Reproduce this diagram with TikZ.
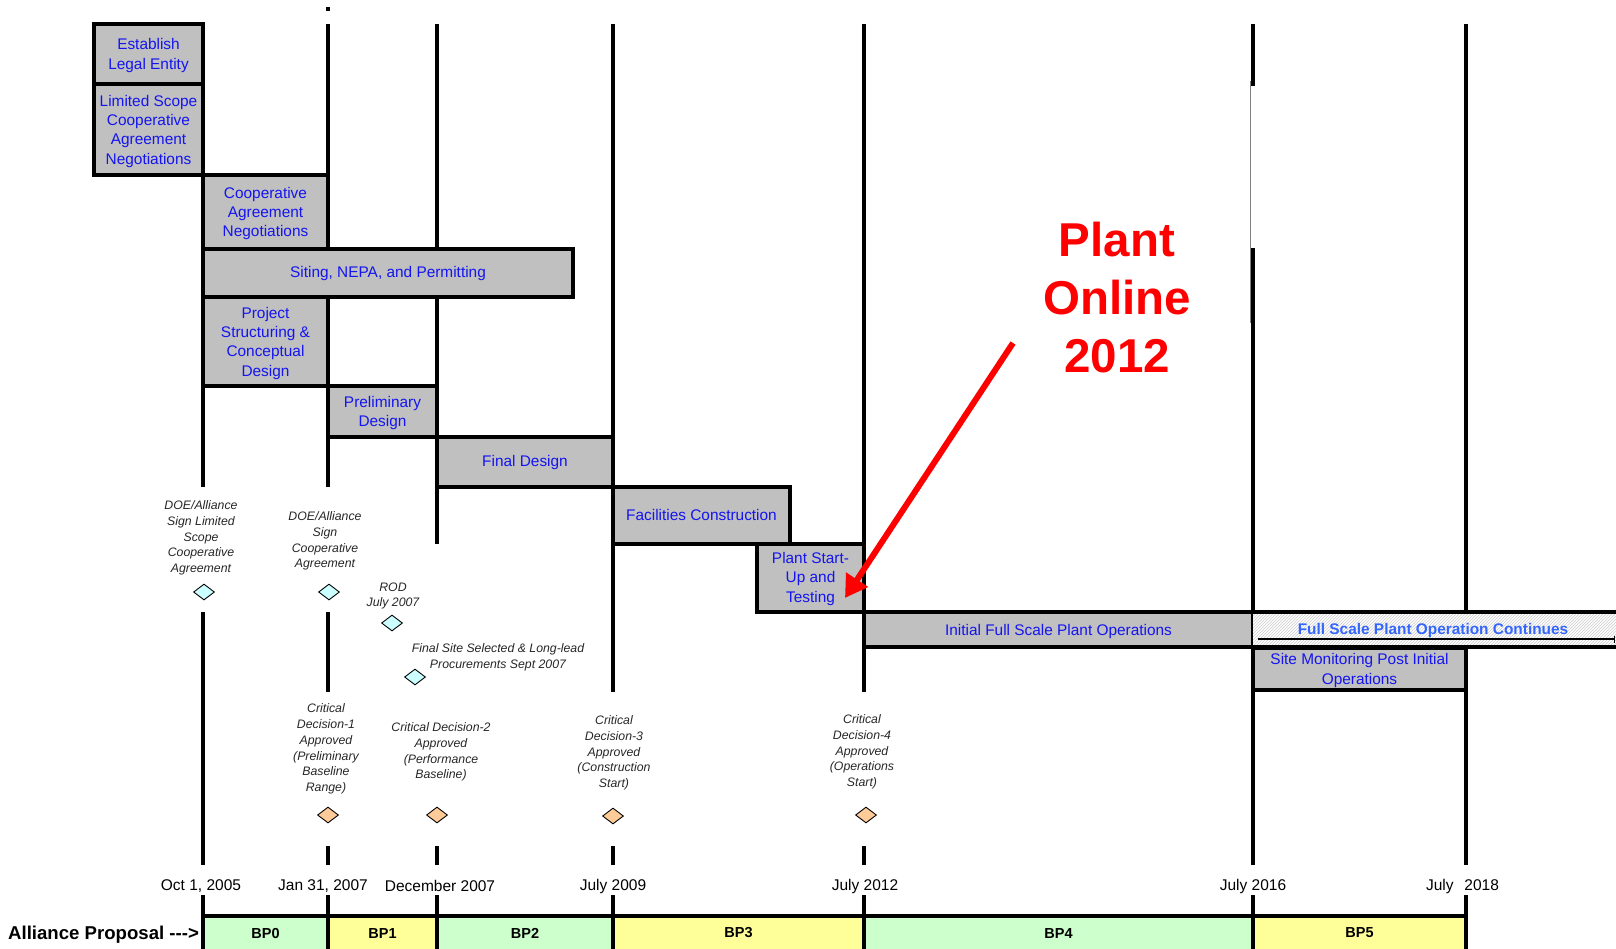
\documentclass[tikz,border=0pt]{standalone}
\usepackage{fontspec}
\setmainfont{Liberation Sans}
\usepackage{xcolor}
\usepackage{tikz}
\usetikzlibrary{arrows.meta,shapes.geometric,patterns}
\definecolor{boxgray}{HTML}{C0C0C0}
\definecolor{phasetext}{HTML}{1414F0}
\definecolor{conttext}{HTML}{3366FF}
\definecolor{doecyan}{HTML}{CCFFFF}
\definecolor{cdorange}{HTML}{FFCC99}
\definecolor{bpgreen}{HTML}{CCFFCC}
\definecolor{bpyellow}{HTML}{FFFF99}
\tikzset{
    timeline/.style={line width=3.2pt},
    phase box/.style={draw,line width=3.4pt,fill=boxgray,text=phasetext,align=center,inner sep=1pt,
        text depth=-1.5pt,font=\fontsize{15.4}{19.3}\selectfont},
    milestone/.style={diamond,draw,line width=0.9pt,aspect=1.3,minimum width=21pt,minimum height=16pt,inner sep=0pt},
    doe milestone/.style={milestone,fill=doecyan},
    cd milestone/.style={milestone,fill=cdorange},
    milestone label/.style={align=center,text=black!85,inner sep=0pt,font=\fontsize{12.3}{15.8}\selectfont\itshape},
    date label/.style={inner sep=0pt,font=\fontsize{15.5}{18}\selectfont},
    period label/.style={inner sep=0pt,font=\fontsize{14.5}{17}\selectfont\bfseries},
    callout/.style={red,line width=6pt,-{Triangle[length=22pt,width=25pt]}},
}

\begin{document}
\begin{tikzpicture}[x=1pt,y=-1pt]
    \useasboundingbox (0,0) rectangle (1616,948);

    % budget periods
    \foreach \a/\b/\c/\n in {203/328/bpgreen/BP0,328/437/bpyellow/BP1,437/613/bpgreen/BP2,
            613/864/bpyellow/BP3,864/1253/bpgreen/BP4,1253/1466/bpyellow/BP5}{
        \fill[\c] (\a,916) rectangle (\b,950);
        \node[period label] (\n) at ({(\a+\b)/2},933) {\n};
    }
    \node[anchor=west,inner sep=0pt,font=\fontsize{18.6}{20}\selectfont\bfseries] (alliance)
        at (8,935) {Alliance Proposal -\kern0pt-\kern0pt-\kern0pt>};

    % date lines
    \foreach \x/\a/\b in {203/24/487,203/612/865,328/24/487,328/612/692,437/24/544,
            613/24/692,864/24/692,1253/24/86,1253/248/865,1466/24/865}
        \draw[timeline] (\x,\a) -- (\x,\b);
    \foreach \x in {203,328,437,613,864,1253,1466}{
        \draw[timeline] (\x,846) -- (\x,865);
        \draw[timeline] (\x,895) -- (\x,950);
    }
    \draw[timeline] (328,7) -- (328,11);
    \draw[gray,line width=0.8pt] (1250.5,81) -- (1250.5,323);
    \draw[timeline] (203,916) -- (1466,916);

    % dates
    \foreach \x/\t/\n in {201/{Oct 1, 2005}/d05,323/{Jan 31, 2007}/d07,440/{December 2007}/d07b,
            613/{July 2009}/d09,865/{July 2012}/d12,1253/{July 2016}/d16}
        \node[date label] (\n) at (\x,886) {\t};
    \node[date label] (d18) at (1462.5,886) {July\hspace{6.5pt} 2018};

    % phases
    \node[phase box,minimum width=109pt,minimum height=60pt,text depth=-4.5pt] (legal) at (148.5,54)
        {Establish\\Legal Entity};
    \node[phase box,minimum width=109pt,minimum height=91pt,text depth=-2.5pt] (limited) at (148.5,129.5)
        {Limited Scope\\Cooperative\\Agreement\\Negotiations};
    \node[phase box,minimum width=125pt,minimum height=74pt] (coop) at (265.5,212)
        {Cooperative\\Agreement\\Negotiations};
    \node[phase box,minimum width=370pt,minimum height=48pt,text depth=1.2pt] (siting) at (388,273)
        {Siting, NEPA, and Permitting};
    \node[phase box,minimum width=125pt,minimum height=89pt] (structuring) at (265.5,341.5)
        {Project\\Structuring \&\\Conceptual\\Design};
    \node[phase box,minimum width=109pt,minimum height=51pt,text depth=-2.5pt] (prelim) at (382.5,411.5)
        {Preliminary\\Design};
    \node[phase box,minimum width=176pt,minimum height=50pt,text depth=1.2pt] (final) at (525,462) {Final Design};
    \node[phase box,minimum width=177pt,minimum height=57pt,text depth=2pt] (facilities) at (701.5,515.5)
        {Facilities Construction};
    \node[phase box,minimum width=107pt,minimum height=68pt,text depth=1.2pt] (startup) at (810.5,578)
        {Plant Start-\\Up and\\Testing};
    \node[phase box,minimum width=389pt,minimum height=35pt] (initial) at (1058.5,629.5)
        {Initial Full Scale Plant Operations};
    \node[phase box,minimum width=213pt,minimum height=42pt,text depth=-4.5pt] (monitoring) at (1359.5,669)
        {Site Monitoring Post Initial\\Operations};

    % operation goes on past the chart
    \fill[white] (1253,612) rectangle (1620,647);
    \fill[pattern=north east lines,pattern color=gray!40] (1253,612) rectangle (1620,647);
    \draw[line width=3.4pt] (1251.3,612) -- (1620,612) (1251.3,647) -- (1620,647);
    \draw[line width=1.3pt,-{Bar[width=7pt]}] (1258,639) -- (1615,639);
    \node[inner sep=0pt,text=conttext,font=\fontsize{15.4}{19.3}\selectfont\bfseries] (continues)
        at (1433,631) {Full Scale Plant Operation Continues};

    % DOE / alliance milestones
    \node[milestone label] (doe1 text) at (201,538) {DOE/Alliance\\Sign Limited\\Scope\\Cooperative\\Agreement};
    \node[doe milestone] (doe1) at (204,592) {};
    \node[milestone label] (doe2 text) at (325,541) {DOE/Alliance\\Sign\\Cooperative\\Agreement};
    \node[doe milestone] (doe2) at (329,592) {};
    \node[milestone label] (rod text) at (393,596) {ROD\\July 2007};
    \node[doe milestone] (rod) at (392,623) {};
    \node[milestone label] (site text) at (498,657) {Final Site Selected \& Long-lead\\Procurements Sept 2007};
    \node[doe milestone] (site) at (415,677) {};

    % critical decisions
    \node[milestone label] (cd1 text) at (326,749)
        {Critical\\Decision-1\\Approved\\(Preliminary\\Baseline\\Range)};
    \node[cd milestone] (cd1) at (328,815) {};
    \node[milestone label] (cd2 text) at (441,752) {Critical Decision-2\\Approved\\(Performance\\Baseline)};
    \node[cd milestone] (cd2) at (437,815) {};
    \node[milestone label] (cd3 text) at (614,753) {Critical\\Decision-3\\Approved\\(Construction\\Start)};
    \node[cd milestone] (cd3) at (613,816) {};
    \node[milestone label] (cd4 text) at (862,752) {Critical\\Decision-4\\Approved\\(Operations\\Start)};
    \node[cd milestone] (cd4) at (866,815) {};

    % call-out
    \node[align=center,text=red,inner sep=0pt,font=\fontsize{47.5}{58}\selectfont\bfseries] (online)
        at (1117,298) {Plant\\Online\\2012};
    \coordinate (callout tail) at (1013,343);
    \coordinate (callout tip) at (845,598);
    \draw[callout] (callout tail) -- (callout tip);
\end{tikzpicture}
\end{document}
